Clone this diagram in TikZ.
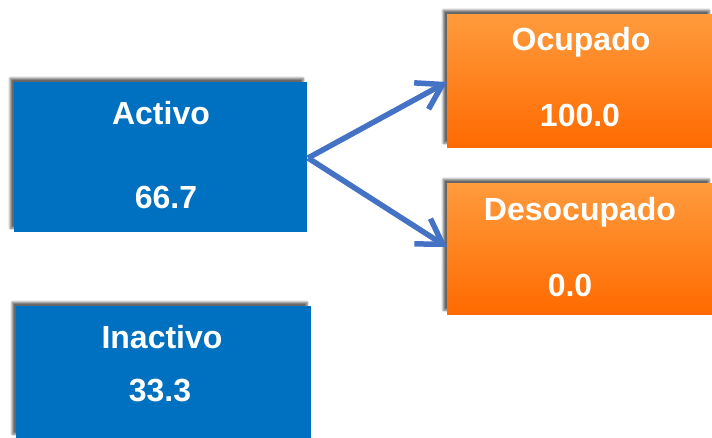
\documentclass[tikz,border=0pt]{standalone}
\usepackage{fontspec}
\setmainfont{Liberation Sans}
\usetikzlibrary{arrows.meta,shadows.blur}
\definecolor{azul}{HTML}{0070C0}
\definecolor{flecha}{HTML}{4472C4}
\definecolor{naranjaA}{HTML}{FF9B3D}
\definecolor{naranjaB}{HTML}{FF6A00}

\begin{document}
\begin{tikzpicture}[x=1pt,y=-1pt,
  caja/.style={rectangle,inner sep=0pt,anchor=north west,
    blur shadow={shadow xshift=-4pt,shadow yshift=4pt,shadow blur steps=6,shadow opacity=60}},
  cajaazul/.style={caja,fill=azul},
  cajanaranja/.style={caja,top color=naranjaA,bottom color=naranjaB},
  texto/.style={text=white,font=\bfseries\fontsize{32}{32}\selectfont},
  flechita/.style={flecha,line width=5.5pt,-{Straight Barb[length=24pt,width=30pt]}}]
  \useasboundingbox (0,0) rectangle (712,437);
  % cajas
  \node[cajaazul,minimum width=293pt,minimum height=150pt] (activo) at (14,82) {};
  \node[cajaazul,minimum width=295pt,minimum height=132pt] (inactivo) at (16,306) {};
  \node[cajanaranja,minimum width=266pt,minimum height=133pt] (ocupado) at (447,14) {};
  \node[cajanaranja,minimum width=266pt,minimum height=131pt] (desocupado) at (447,183) {};
  % textos
  \node[texto] (tact) at (161,113) {Activo};
  \node[texto] (vact) at (166,197) {66.7};
  \node[texto] (tina) at (162,337) {Inactivo};
  \node[texto] (vina) at (160,390) {33.3};
  \node[texto] (tocu) at (581,42) {Ocupado};
  \node[texto] (vocu) at (580,115) {100.0};
  \node[texto] (tdes) at (580,212) {Desocupado};
  \node[texto] (vdes) at (570,285) {0.0};
  % flechas
  \coordinate (salida) at (308,158);
  \draw[flechita] (salida)--(ocupado.north west |- 0,82);
  \draw[flechita] (salida)--(desocupado.north west |- 0,247);
\end{tikzpicture}
\end{document}
